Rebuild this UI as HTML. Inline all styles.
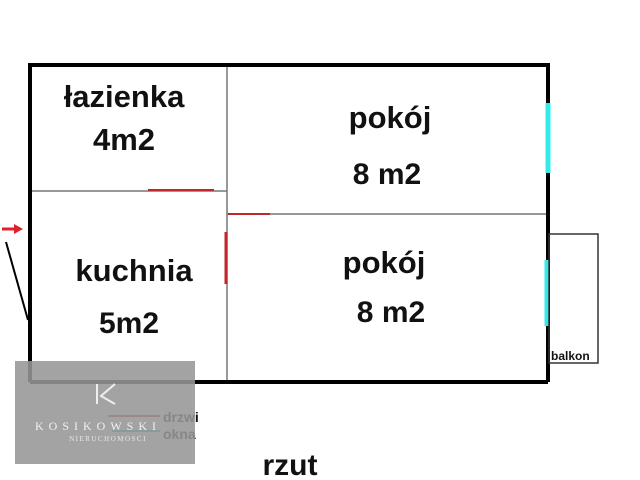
<!DOCTYPE html>
<html><head><meta charset="utf-8"><style>
body{margin:0;background:#fff;}
svg{display:block;}
text{font-family:"Liberation Sans",sans-serif;font-weight:bold;fill:#111;}
</style></head><body>
<svg width="640" height="480" viewBox="0 0 640 480">
<rect width="640" height="480" fill="#fff"/>
<line x1="227" y1="64" x2="227" y2="382" stroke="#777" stroke-width="1.5"/>
<line x1="30" y1="191" x2="227" y2="191" stroke="#777" stroke-width="1.5"/>
<line x1="227" y1="214" x2="548" y2="214" stroke="#777" stroke-width="1.5"/>
<path d="M30 382 L30 65 L548 65 L548 382 M30 382 L548 382" fill="none" stroke="#000" stroke-width="4"/>
<line x1="148" y1="190" x2="214" y2="190" stroke="#c0262a" stroke-width="2"/>
<line x1="228" y1="214" x2="270" y2="214" stroke="#c0262a" stroke-width="2"/>
<line x1="226" y1="232" x2="226" y2="284" stroke="#c0262a" stroke-width="3"/>
<line x1="548" y1="103" x2="548" y2="173" stroke="#33eaea" stroke-width="5"/>
<line x1="547" y1="260" x2="547" y2="326" stroke="#33eaea" stroke-width="5"/>
<rect x="549" y="234" width="49" height="129" fill="none" stroke="#333" stroke-width="1.5"/>
<text x="551" y="360" font-size="12">balkon</text>
<line x1="2" y1="229" x2="16" y2="229" stroke="#e0202a" stroke-width="3"/>
<polygon points="14,224 23,229 14,234" fill="#e0202a"/>
<line x1="6" y1="242" x2="28" y2="320" stroke="#000" stroke-width="2"/>
<text x="124" y="107" font-size="31" text-anchor="middle">łazienka</text>
<text x="124" y="150" font-size="31" text-anchor="middle">4m2</text>
<text x="390" y="128" font-size="31" text-anchor="middle">pokój</text>
<text x="387" y="184" font-size="30" text-anchor="middle">8 m2</text>
<text x="134" y="281" font-size="31" text-anchor="middle">kuchnia</text>
<text x="129" y="333" font-size="30" text-anchor="middle">5m2</text>
<text x="384" y="273" font-size="31" text-anchor="middle">pokój</text>
<text x="391" y="322" font-size="30" text-anchor="middle">8 m2</text>
<text x="290" y="475" font-size="30" text-anchor="middle">rzut</text>
<line x1="108" y1="416" x2="160" y2="416" stroke="#c0262a" stroke-width="2"/>
<line x1="112" y1="431" x2="160" y2="431" stroke="#33aaaa" stroke-width="2"/>
<text x="163" y="422" font-size="14">drzwi</text>
<text x="163" y="439" font-size="14">okna</text>
<rect x="15" y="361" width="180" height="103" fill="#969696" opacity="0.88"/>
<path d="M97 384 L97 404 M115 384 L101 396 L115 404" fill="none" stroke="#eee" stroke-width="2"/>
<text x="98" y="430" font-size="12" text-anchor="middle" style="font-family:'Liberation Serif',serif;font-weight:normal;fill:#f0f0f0;letter-spacing:5px">KOSIKOWSKI</text>
<text x="108" y="441" font-size="7" text-anchor="middle" style="font-family:'Liberation Serif',serif;font-weight:normal;fill:#e8e8e8;letter-spacing:1.5px">NIERUCHOMOSCI</text>
</svg>
</body></html>
